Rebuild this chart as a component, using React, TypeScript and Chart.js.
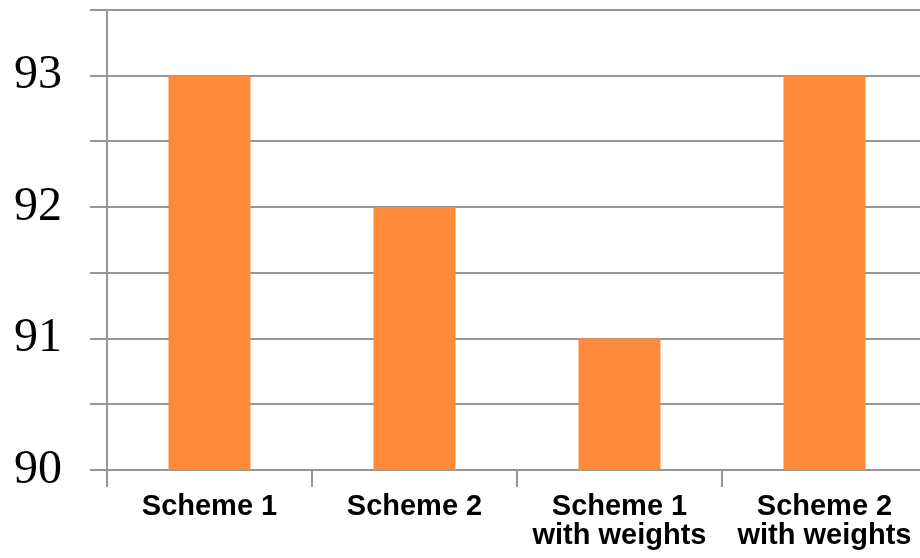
import React, { useEffect, useRef } from "react";
import { Chart, registerables } from "chart.js";

Chart.register(...registerables);

const categories: (string | string[])[] = [
  "Scheme 1",
  "Scheme 2",
  ["Scheme 1", "with weights"],
  ["Scheme 2", "with weights"],
];
const accuracy: number[] = [93, 92, 91, 93];
const yTickValues: number[] = [90, 90.5, 91, 91.5, 92, 92.5, 93, 93.5];
const yLabelled: number[] = [90, 91, 92, 93];

const GRID = "#969696";

export default function App() {
  const ref = useRef<HTMLCanvasElement | null>(null);

  useEffect(() => {
    if (!ref.current) return;
    const chart = new Chart(ref.current, {
      type: "bar",
      data: {
        labels: categories,
        datasets: [
          {
            data: accuracy,
            backgroundColor: "#FF8A3A",
            borderWidth: 0,
            barPercentage: 0.4,
            categoryPercentage: 1,
          },
        ],
      },
      options: {
        responsive: false,
        animation: false,
        layout: { padding: { top: 10, left: 0, right: 0, bottom: 0 } },
        plugins: { legend: { display: false }, tooltip: { enabled: false } },
        scales: {
          x: {
            grid: {
              display: true,
              drawOnChartArea: false,
              drawTicks: true,
              tickLength: 17,
              color: GRID,
              lineWidth: 2,
              offset: true,
            },
            border: { display: true, color: GRID, width: 2 },
            ticks: {
              color: "#000",
              padding: 5,
              maxRotation: 0,
              autoSkip: false,
              font: { family: "'Liberation Sans', Arial, sans-serif", size: 29, weight: "bold", lineHeight: 1.0 },
            },
            afterFit: (s: any) => {
              s.height = 88;
              s.paddingLeft = 0;
              s.paddingRight = 0;
            },
          },
          y: {
            min: yTickValues[0],
            max: yTickValues[yTickValues.length - 1],
            grid: {
              color: GRID,
              lineWidth: 2,
              drawTicks: true,
              tickLength: 17,
            },
            border: { display: true, color: GRID, width: 2 },
            afterBuildTicks: (s: any) => {
              s.ticks = yTickValues.map((v) => ({ value: v }));
            },
            ticks: {
              autoSkip: false,
              color: "#000",
              padding: 28,
              font: { family: "'Liberation Serif', 'Times New Roman', serif", size: 48, lineHeight: 1.0 },
              callback: (v: any) => (yLabelled.includes(Number(v)) ? String(v) : ""),
            },
            afterFit: (s: any) => {
              s.width = 107;
              s.paddingTop = 0;
              s.paddingBottom = 0;
            },
          },
        },
      },
    });
    return () => chart.destroy();
  }, []);

  return (
    <div
      style={{
        position: "fixed",
        left: 0,
        top: 0,
        width: 920,
        height: 558,
        overflow: "hidden",
        background: "#fff",
      }}
    >
      <canvas ref={ref} width={927} height={558} style={{ display: "block", width: 927, height: 558 }} />
    </div>
  );
}
